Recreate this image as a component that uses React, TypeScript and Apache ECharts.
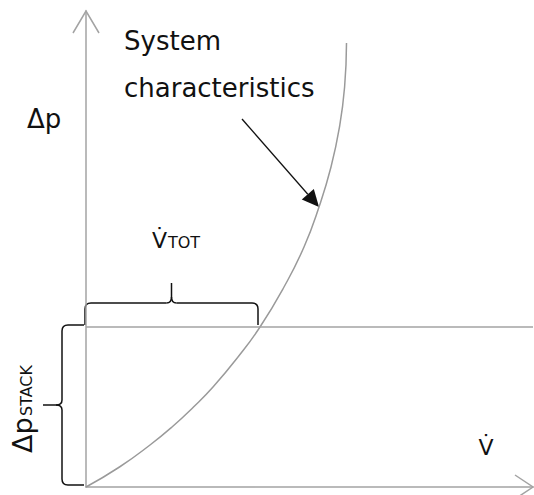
import React, { useEffect, useRef } from "react";
import * as echarts from "echarts";

// System characteristic curve: volume flow (V̇) against pressure difference (Δp)
const flowRate = [0, 33.5, 64, 86, 107.5, 127, 152, 174, 198, 218, 233, 245, 253.5, 258.6, 260.5];
const pressure = [0, 20, 42, 60, 80, 100, 130, 160, 200, 240, 280, 320, 360, 400, 444];

// Stack pressure level and the flow where the curve meets it
const stackPressure = 160;
const totalFlow = 174;

// Axis extents
const flowMax = 447;
const pressureMax = 476;

// Point on the curve the annotation arrow points at
const pointerTarget = [233, 280];

const FONT = "DejaVu Sans";
const AXIS_GRAY = "#a3a3a3";
const CURVE_GRAY = "#9a9a9a";
const INK = "#111111";

export default function App() {
  const ref = useRef<HTMLDivElement>(null);

  useEffect(() => {
    if (!ref.current) return;
    const chart = echarts.init(ref.current, undefined, { renderer: "svg" });

    const curve = flowRate.map((v, i) => [v, pressure[i]]);

    chart.setOption({
      animation: false,
      grid: { left: 86, top: 11, width: 447, height: 476 },
      xAxis: {
        type: "value",
        min: 0,
        max: flowMax,
        axisLine: { show: true, onZero: false, lineStyle: { color: AXIS_GRAY, width: 1.5 } },
        axisTick: { show: false },
        axisLabel: { show: false },
        splitLine: { show: false },
      },
      yAxis: {
        type: "value",
        min: 0,
        max: pressureMax,
        axisLine: { show: true, onZero: false, lineStyle: { color: AXIS_GRAY, width: 1.5 } },
        axisTick: { show: false },
        axisLabel: { show: false },
        splitLine: { show: false },
      },
      series: [
        {
          type: "line",
          data: curve,
          smooth: true,
          symbol: "none",
          silent: true,
          lineStyle: { color: CURVE_GRAY, width: 1.5 },
          markLine: {
            silent: true,
            symbol: ["none", "none"],
            label: { show: false },
            lineStyle: { type: "solid", color: AXIS_GRAY, width: 1.5 },
            data: [[{ coord: [0, stackPressure] }, { coord: [flowMax, stackPressure] }]],
          },
        },
      ],
    });

    const px = (v: number, p: number) =>
      chart.convertToPixel({ gridIndex: 0 }, [v, p]) as number[];

    const [ox, oy] = px(0, 0);
    const [, topY] = px(0, pressureMax);
    const [rightX] = px(flowMax, 0);
    const [xTot, yStack] = px(totalFlow, stackPressure);
    const [tipX, tipY] = px(pointerTarget[0], pointerTarget[1]);

    const stroke = (color: string, w = 1.5) => ({ stroke: color, lineWidth: w, fill: "none" });
    const seg = (x1: number, y1: number, x2: number, y2: number) => ({
      type: "line",
      shape: { x1, y1, x2, y2 },
      style: stroke(INK),
    });
    const quad = (x1: number, y1: number, cx: number, cy: number, x2: number, y2: number) => ({
      type: "bezierCurve",
      shape: { x1, y1, x2, y2, cpx1: cx, cpy1: cy },
      style: stroke(INK),
    });

    // Horizontal brace above the V̇TOT span
    const bL = ox - 1;
    const bR = xTot - 2;
    const bBase = yStack - 2;
    const bTop = yStack - 24;
    const bTip = yStack - 44;
    const bM = (bL + bR) / 2;
    const r = 6;
    const topBrace = [
      seg(bL, bBase, bL, bTop + r),
      quad(bL, bTop + r, bL, bTop, bL + r, bTop),
      seg(bL + r, bTop, bM - 5, bTop),
      quad(bM - 5, bTop, bM, bTop, bM, bTop - 6),
      seg(bM, bTop - 6, bM, bTip),
      quad(bM + 5, bTop, bM, bTop, bM, bTop - 6),
      seg(bM + 5, bTop, bR - r, bTop),
      quad(bR - r, bTop, bR, bTop, bR, bTop + r),
      seg(bR, bTop + r, bR, bBase),
    ];

    // Vertical brace beside the Δp STACK span
    const vOpen = ox - 2;
    const vSpine = ox - 24;
    const vTip = ox - 43;
    const vT = yStack - 2;
    const vB = oy - 2;
    const vM = (vT + vB) / 2;
    const sideBrace = [
      seg(vOpen, vT, vSpine + r, vT),
      quad(vSpine + r, vT, vSpine, vT, vSpine, vT + r),
      seg(vSpine, vT + r, vSpine, vM - 5),
      quad(vSpine, vM - 5, vSpine, vM, vSpine - 6, vM),
      seg(vSpine - 6, vM, vTip, vM),
      quad(vSpine, vM + 5, vSpine, vM, vSpine - 6, vM),
      seg(vSpine, vM + 5, vSpine, vB - r),
      quad(vSpine, vB - r, vSpine, vB, vSpine + r, vB),
      seg(vSpine + r, vB, vOpen, vB),
    ];

    // Annotation arrow from the label to the curve
    const sx = tipX - 77;
    const sy = tipY - 88;
    const dx = tipX - sx;
    const dy = tipY - sy;
    const len = Math.hypot(dx, dy);
    const ux = dx / len;
    const uy = dy / len;
    const headLen = 17;
    const headHalf = 8;
    const bx = tipX - ux * headLen;
    const by = tipY - uy * headLen;

    const text = (
      t: string,
      x: number,
      y: number,
      size: number,
      align: string = "left",
      rotation = 0
    ) => ({
      type: "text",
      x,
      y,
      rotation,
      style: {
        text: t,
        x: 0,
        y: 0,
        fontSize: size,
        fontFamily: FONT,
        fill: INK,
        align,
        verticalAlign: "middle",
      },
    });

    chart.setOption({
      graphic: [
        // open arrowheads on the axes
        {
          type: "polyline",
          shape: { points: [[ox - 13, topY + 22], [ox, topY], [ox + 13, topY + 22]] },
          style: stroke(AXIS_GRAY),
        },
        {
          type: "polyline",
          shape: { points: [[rightX - 18, oy - 12], [rightX, oy], [rightX - 18, oy + 12]] },
          style: stroke(AXIS_GRAY),
        },
        // small break in the curve below the label block
        { type: "rect", shape: { x: 334, y: 97, width: 18, height: 13 }, style: { fill: "#ffffff" } },
        ...topBrace,
        ...sideBrace,
        {
          type: "line",
          shape: { x1: sx, y1: sy, x2: bx, y2: by },
          style: stroke(INK, 1.3),
        },
        {
          type: "polygon",
          shape: {
            points: [
              [tipX, tipY],
              [bx - uy * headHalf, by + ux * headHalf],
              [bx + uy * headHalf, by - ux * headHalf],
            ],
          },
          style: { fill: INK },
        },
        text("System", 124, 40.5, 26),
        text("characteristics", 124, 87.5, 26),
        text("Δp", 27, 119, 26),
        text("V\u0307", 152, 240, 22),
        text("TOT", 168, 242, 16),
        text("V\u0307", 486, 447, 22, "center"),
        text("Δp", 22.5, 453, 27, "left", Math.PI / 2),
        text("STACK", 26.5, 416, 16, "left", Math.PI / 2),
      ],
    });

    return () => chart.dispose();
  }, []);

  return (
    <div
      ref={ref}
      style={{ position: "fixed", left: 0, top: 0, width: 534, height: 495, background: "#ffffff" }}
    />
  );
}
